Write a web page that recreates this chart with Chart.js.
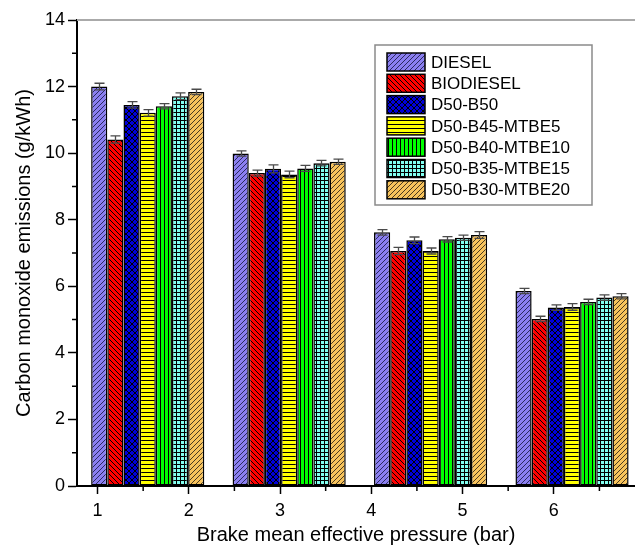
<!DOCTYPE html>
<html>
<head>
<meta charset="utf-8">
<script src="https://cdn.jsdelivr.net/npm/chart.js@4.4.1/dist/chart.umd.min.js"></script>
<style>
    html, body { margin: 0; padding: 0; background: #fff; }
    #wrap { width: 635px; height: 551px; }
</style>
</head>
<body>
<div id="wrap"><canvas id="coChart" width="635" height="551"></canvas></div>
<script>
// load groups, placed on the pressure axis
const groupX = [1.55, 3.10, 4.65, 6.20];
const xTicks = [1, 2, 3, 4, 5, 6];
const xMinorTicks = [1.5, 2.5, 3.5, 4.5, 5.5, 6.5];
const yTicks = [0, 2, 4, 6, 8, 10, 12, 14];
const yMinorTicks = [1, 3, 5, 7, 9, 11, 13];

const fuelNames = ["DIESEL", "BIODIESEL", "D50-B50", "D50-B45-MTBE5", "D50-B40-MTBE10", "D50-B35-MTBE15", "D50-B30-MTBE20"];

// CO emissions, g/kWh
const diesel = [12.00, 9.99, 7.62, 5.86];
const biodiesel = [10.41, 9.40, 7.06, 5.02];
const d50b50 = [11.45, 9.53, 7.38, 5.36];
const d50b45 = [11.21, 9.36, 7.06, 5.38];
const d50b40 = [11.41, 9.54, 7.41, 5.53];
const d50b35 = [11.71, 9.70, 7.46, 5.66];
const d50b30 = [11.84, 9.74, 7.54, 5.70];

// standard deviation
const dieselErr = [0.10, 0.08, 0.08, 0.08];
const biodieselErr = [0.11, 0.09, 0.11, 0.08];
const d50b50Err = [0.10, 0.12, 0.10, 0.08];
const d50b45Err = [0.10, 0.10, 0.09, 0.10];
const d50b40Err = [0.08, 0.09, 0.08, 0.08];
const d50b35Err = [0.10, 0.08, 0.08, 0.08];
const d50b30Err = [0.08, 0.08, 0.10, 0.08];

const seriesValues = [diesel, biodiesel, d50b50, d50b45, d50b40, d50b35, d50b30];
const seriesErrors = [dieselErr, biodieselErr, d50b50Err, d50b45Err, d50b40Err, d50b35Err, d50b30Err];

function hatch(bg, kind, size, lineColor) {
    const c = document.createElement("canvas");
    c.width = size;
    c.height = size;
    const g = c.getContext("2d");
    g.fillStyle = bg;
    g.fillRect(0, 0, size, size);
    g.strokeStyle = lineColor;
    g.lineWidth = 1;
    g.beginPath();
    if (kind === "fwd" || kind === "cross") {
        g.moveTo(-1, size + 1); g.lineTo(size + 1, -1);
        g.moveTo(-1, 1); g.lineTo(1, -1);
        g.moveTo(size - 1, size + 1); g.lineTo(size + 1, size - 1);
    }
    if (kind === "back" || kind === "cross") {
        g.moveTo(-1, -1); g.lineTo(size + 1, size + 1);
        g.moveTo(size - 1, -1); g.lineTo(size + 1, 1);
        g.moveTo(-1, size - 1); g.lineTo(1, size + 1);
    }
    if (kind === "horiz" || kind === "grid") {
        g.moveTo(0, 0.5); g.lineTo(size, 0.5);
    }
    if (kind === "vert" || kind === "grid") {
        g.moveTo(0.5, 0); g.lineTo(0.5, size);
    }
    g.stroke();
    return g.createPattern(c, "repeat");
}

const fills = [
    hatch("#8b7ff0", "fwd", 5, "#2a2a60"),
    hatch("#ff0000", "back", 5, "#000"),
    hatch("#0000d8", "cross", 6, "#000"),
    hatch("#ffff00", "horiz", 4, "#000"),
    hatch("#00ff00", "vert", 4, "#000"),
    hatch("#80fff0", "grid", 4, "#000"),
    hatch("#f7c35c", "fwd", 5, "#4a3a20"),
];

const errorBars = {
    id: "errorBars",
    afterDatasetsDraw(chart) {
        const ctx = chart.ctx;
        const y = chart.scales.y;
        ctx.save();
        ctx.strokeStyle = "#4a4a4a";
        ctx.lineWidth = 1.3;
        chart.data.datasets.forEach((ds, i) => {
            chart.getDatasetMeta(i).data.forEach((bar, j) => {
                const v = seriesValues[i][j];
                const e = seriesErrors[i][j];
                const top = y.getPixelForValue(v + e);
                const bot = y.getPixelForValue(v - e);
                const cx = Math.round(bar.x) + 0.5;
                ctx.beginPath();
                ctx.moveTo(cx, top); ctx.lineTo(cx, bot);
                ctx.moveTo(cx - 5, top); ctx.lineTo(cx + 5, top);
                ctx.moveTo(cx - 5, bot); ctx.lineTo(cx + 5, bot);
                ctx.stroke();
            });
        });
        ctx.restore();
    }
};

const frame = {
    id: "frame",
    afterDraw(chart) {
        const ctx = chart.ctx;
        const area = chart.chartArea;
        const x = chart.scales.x;
        const y = chart.scales.y;
        ctx.save();
        // light top edge
        ctx.strokeStyle = "#aaaaaa";
        ctx.lineWidth = 2;
        ctx.beginPath();
        ctx.moveTo(area.left, area.top);
        ctx.lineTo(area.right, area.top);
        ctx.stroke();
        // minor ticks
        ctx.strokeStyle = "#000";
        ctx.lineWidth = 1.5;
        ctx.beginPath();
        xMinorTicks.forEach(v => {
            const px = x.getPixelForValue(v);
            ctx.moveTo(px, area.bottom);
            ctx.lineTo(px, area.bottom + 5);
        });
        yMinorTicks.forEach(v => {
            const py = y.getPixelForValue(v);
            ctx.moveTo(area.left - 5, py);
            ctx.lineTo(area.left, py);
        });
        ctx.stroke();
        ctx.restore();
    }
};

// legend box inside the plot, top right
const boxLegend = {
    id: "boxLegend",
    afterDraw(chart) {
        const ctx = chart.ctx;
        const left = 375, top = 45, w = 217, h = 160;
        const rowH = 21.3;
        ctx.save();
        ctx.fillStyle = "#fff";
        ctx.fillRect(left, top, w, h);
        ctx.strokeStyle = "#8a8a8a";
        ctx.lineWidth = 1.5;
        ctx.strokeRect(left, top, w, h);
        ctx.font = '17px "Liberation Sans", Arial, sans-serif';
        ctx.textBaseline = "middle";
        chart.data.datasets.forEach((ds, i) => {
            const sy = top + 8 + i * rowH;
            ctx.fillStyle = ds.backgroundColor;
            ctx.fillRect(387, sy, 38, 18);
            ctx.strokeStyle = "#000";
            ctx.lineWidth = 1.5;
            ctx.strokeRect(387, sy, 38, 18);
            ctx.fillStyle = "#000";
            ctx.fillText(ds.label, 431, sy + 10);
        });
        ctx.restore();
    }
};

const ctx = document.getElementById("coChart").getContext("2d");
Chart.defaults.font.family = '"Liberation Sans", Arial, sans-serif';
Chart.defaults.color = "#000";

new Chart(ctx, {
    type: "bar",
    data: {
        datasets: fuelNames.map((name, i) => ({
            label: name,
            data: groupX.map((x, j) => ({ x: x, y: seriesValues[i][j] })),
            backgroundColor: fills[i],
            borderColor: "#000",
            borderWidth: 1.5,
            borderSkipped: false,
            barPercentage: 1.0,
            // group spans ~1.24 pressure units
            categoryPercentage: 1.24,
        }))
    },
    options: {
        responsive: false,
        devicePixelRatio: 1,
        animation: false,
        layout: {
            padding: { top: 20, right: 0, left: 0, bottom: 0 }
        },
        plugins: {
            legend: { display: false },
            tooltip: { enabled: false },
        },
        scales: {
            x: {
                type: "linear",
                offset: false,
                min: 0.775,
                max: 6.89,
                afterBuildTicks: (scale) => {
                    scale.ticks = xTicks.map(v => ({ value: v }));
                },
                afterFit: (scale) => {
                    scale.height = 65;
                },
                grid: {
                    offset: false,
                    drawOnChartArea: false,
                    tickLength: 8,
                    tickColor: "#000",
                    tickWidth: 1.5,
                },
                border: { color: "#000", width: 2 },
                ticks: {
                    font: { size: 18 },
                    padding: 6,
                    maxRotation: 0,
                },
                title: {
                    display: true,
                    text: "Brake mean effective pressure (bar)",
                    font: { size: 20 },
                    padding: { top: 0, bottom: 4 },
                }
            },
            y: {
                min: 0,
                max: 14,
                afterBuildTicks: (scale) => {
                    scale.ticks = yTicks.map(v => ({ value: v }));
                },
                afterFit: (scale) => {
                    scale.width = 77;
                },
                grid: {
                    drawOnChartArea: false,
                    tickLength: 9,
                    tickColor: "#000",
                    tickWidth: 1.5,
                },
                border: { color: "#000", width: 2 },
                ticks: {
                    font: { size: 18 },
                    padding: 3,
                },
                title: {
                    display: true,
                    text: "Carbon monoxide emissions (g/kWh)",
                    font: { size: 20 },
                    padding: { top: 12, bottom: 0 },
                }
            }
        }
    },
    plugins: [errorBars, frame, boxLegend]
});
</script>
</body>
</html>
